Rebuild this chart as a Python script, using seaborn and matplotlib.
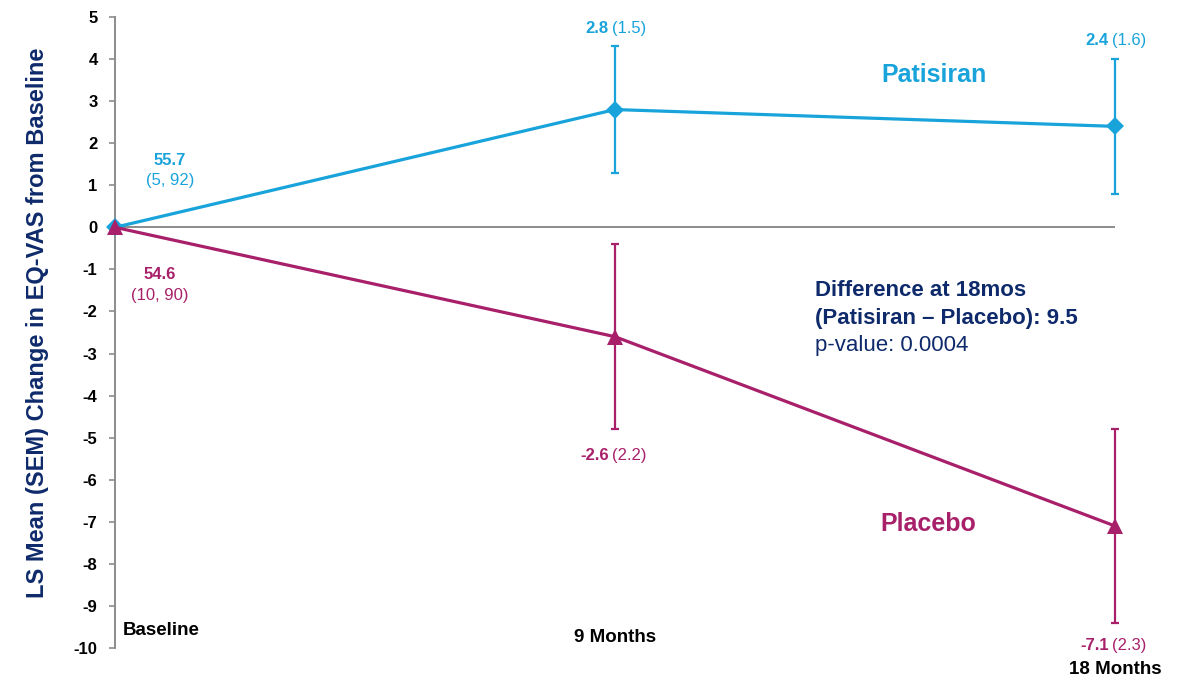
import matplotlib
matplotlib.use("Agg")
import matplotlib.pyplot as plt
import seaborn as sns
import pandas as pd

# Data
timepoints = ["Baseline", "9 Months", "18 Months"]
patisiran_mean = [0.0, 2.8, 2.4]
patisiran_sem = [0.0, 1.5, 1.6]
placebo_mean = [0.0, -2.6, -7.1]
placebo_sem = [0.0, 2.2, 2.3]
baseline_patisiran = ("55.7", "(5, 92)")
baseline_placebo = ("54.6", "(10, 90)")

BLUE = "#19A3DB"
MAGENTA = "#A8206A"
NAVY = "#0E2A6B"
GRAY = "#8C8C8C"

sns.set_style("white")
plt.rcParams["font.family"] = ["Liberation Sans", "DejaVu Sans"]
plt.rcParams["axes.unicode_minus"] = False
plt.rcParams["text.color"] = "black"

x_pos = list(range(len(timepoints)))
df = pd.DataFrame({
    "x": x_pos * 2,
    "mean": patisiran_mean + placebo_mean,
    "sem": patisiran_sem + placebo_sem,
    "arm": ["Patisiran"] * 3 + ["Placebo"] * 3,
})

fig = plt.figure(figsize=(11.85, 6.8), dpi=100)
ax = fig.add_axes([0.0970, 0.0471, 0.8439, 0.9279])

sns.lineplot(data=df, x="x", y="mean", hue="arm", style="arm",
             hue_order=["Patisiran", "Placebo"],
             palette={"Patisiran": BLUE, "Placebo": MAGENTA},
             markers={"Patisiran": "D", "Placebo": "^"},
             dashes=False, markersize=9, markeredgewidth=0,
             linewidth=2.3, legend=False, ax=ax, zorder=3)
marker_sizes = {BLUE: 9.5, MAGENTA: 11.5}
for ln in ax.lines:
    ln.set_clip_on(False)
    c = matplotlib.colors.to_hex(ln.get_color()).upper()
    ln.set_markersize(marker_sizes.get(c, 9))

ax.axhline(0, color=GRAY, lw=1.4, zorder=1)

for arm, color in [("Patisiran", BLUE), ("Placebo", MAGENTA)]:
    sub = df[(df["arm"] == arm) & (df["sem"] > 0)]
    ax.errorbar(sub["x"], sub["mean"], yerr=sub["sem"], fmt="none",
                ecolor=color, elinewidth=1.6, capsize=3, capthick=1.6,
                zorder=2, clip_on=False)

ax.set_xlim(0, 2)
ax.set_ylim(-10, 5)
ax.set_yticks(range(-10, 6))
ax.set_xticks([])
ax.tick_params(axis="y", left=True, direction="out", length=4.5, width=1.2,
               color=GRAY, labelsize=12, pad=8, labelcolor="black")
for lbl in ax.get_yticklabels():
    lbl.set_fontweight("bold")
for s in ["top", "right", "bottom"]:
    ax.spines[s].set_visible(False)
ax.spines["left"].set_color(GRAY)
ax.spines["left"].set_linewidth(1.4)
ax.set_xlabel("")
ax.set_ylabel("LS Mean (SEM) Change in EQ-VAS from Baseline", fontsize=17,
              fontweight="bold", color=NAVY)
ax.yaxis.set_label_coords(-0.066, 0.515)

# Time point labels
ax.text(0.015, -9.58, timepoints[0], fontsize=13.5, fontweight="bold",
        ha="left", va="center")
ax.text(1, -9.75, timepoints[1], fontsize=13.5, fontweight="bold",
        ha="center", va="center", clip_on=False)
ax.text(2, -10.5, timepoints[2], fontsize=13.5, fontweight="bold",
        ha="center", va="center", clip_on=False)

# Baseline values
ax.text(0.11, 1.59, baseline_patisiran[0], color=BLUE, fontsize=12,
        fontweight="bold", ha="center", va="center")
ax.text(0.11, 1.12, baseline_patisiran[1], color=BLUE, fontsize=12,
        ha="center", va="center")
ax.text(0.09, -1.12, baseline_placebo[0], color=MAGENTA, fontsize=12,
        fontweight="bold", ha="center", va="center")
ax.text(0.09, -1.62, baseline_placebo[1], color=MAGENTA, fontsize=12,
        ha="center", va="center")

# Mean (SEM) labels at follow-up visits
def value_label(x, y, mean, sem, color):
    ax.annotate(f"{mean:.1f}", (x, y), xytext=(-6, 0), textcoords="offset pixels",
                ha="right", va="center", fontsize=12, fontweight="bold",
                color=color, annotation_clip=False)
    ax.annotate(f"({sem:.1f})", (x, y), xytext=(-3, 0), textcoords="offset pixels",
                ha="left", va="center", fontsize=12, color=color,
                annotation_clip=False)

value_label(1, 4.73, patisiran_mean[1], patisiran_sem[1], BLUE)
value_label(2, 4.44, patisiran_mean[2], patisiran_sem[2], BLUE)
value_label(1, -5.42, placebo_mean[1], placebo_sem[1], MAGENTA)
value_label(2, -9.94, placebo_mean[2], placebo_sem[2], MAGENTA)

# Arm labels
ax.text(1.638, 3.61, "Patisiran", color=BLUE, fontsize=18, fontweight="bold",
        ha="center", va="center")
ax.text(1.626, -7.06, "Placebo", color=MAGENTA, fontsize=18, fontweight="bold",
        ha="center", va="center")

# Treatment difference
ax.text(1.40, -1.50, "Difference at 18mos", color=NAVY, fontsize=16,
        fontweight="bold", ha="left", va="center")
ax.text(1.40, -2.16, "(Patisiran \u2013 Placebo): 9.5", color=NAVY, fontsize=16,
        fontweight="bold", ha="left", va="center")
ax.text(1.40, -2.80, "p-value: 0.0004", color=NAVY, fontsize=16,
        ha="left", va="center")

fig.savefig("out.png", dpi=100)
